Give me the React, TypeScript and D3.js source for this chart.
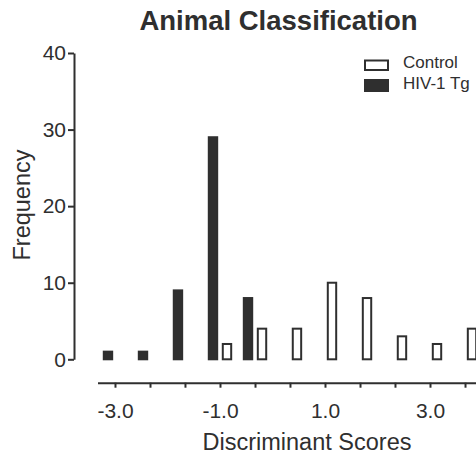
import React from "react";
import * as d3 from "d3";

const binCenters = [-3.0, -2.333, -1.667, -1.0, -0.333, 0.333, 1.0, 1.667, 2.333, 3.0, 3.667];
const hivCounts = [1, 1, 9, 29, 8, 0, 0, 0, 0, 0, 0];
const controlCounts = [0, 0, 0, 2, 4, 4, 10, 8, 3, 2, 4];
const xTickValues = [-3.0, -2.333, -1.667, -1.0, -0.333, 0.333, 1.0, 1.667, 2.333, 3.0, 3.667];
const xTickLabels = ["-3.0", "", "", "-1.0", "", "", "1.0", "", "", "3.0", ""];
const yTickValues = [0, 10, 20, 30, 40];
const seriesNames = ["Control", "HIV-1 Tg"];

const W = 476;
const H = 456;
const INK = "#2f2f2f";
const FONT = "'Liberation Sans', Arial, Helvetica, sans-serif";

export default function App() {
  const x = d3.scaleLinear().domain([-3.333, 4.0]).range([97.5, 482.5]);
  const y = d3.scaleLinear().domain([0, 40]).range([359.3, 53]);
  const binW = 2 / 3;
  const barW = binW * 0.24;
  const off = binW * 0.2;

  const xAxisRef = (g: SVGGElement | null) => {
    if (!g) return;
    const ax = d3
      .axisBottom(x)
      .tickValues(xTickValues)
      .tickFormat((_d, i) => xTickLabels[i])
      .tickSize(5)
      .tickSizeOuter(0)
      .tickPadding(15);
    const sel = d3.select(g);
    sel.call(ax as any);
    sel.select(".domain").attr("stroke", INK).attr("stroke-width", 2);
    sel.selectAll(".tick line").attr("stroke", INK).attr("stroke-width", 2);
    sel
      .selectAll(".tick text")
      .attr("fill", INK)
      .style("font-size", "21px")
      .style("font-family", FONT);
  };

  const yAxisRef = (g: SVGGElement | null) => {
    if (!g) return;
    const ax = d3
      .axisLeft(y)
      .tickValues(yTickValues)
      .tickFormat(d3.format("d") as any)
      .tickSize(6)
      .tickSizeOuter(0)
      .tickPadding(2);
    const sel = d3.select(g);
    sel.call(ax as any);
    sel.select(".domain").attr("stroke", INK).attr("stroke-width", 2);
    sel.selectAll(".tick line").attr("stroke", INK).attr("stroke-width", 2);
    sel
      .selectAll(".tick text")
      .attr("fill", INK)
      .style("font-size", "21px")
      .style("font-family", FONT);
  };

  return (
    <svg
      width={W}
      height={H}
      style={{ position: "absolute", left: 0, top: 0, background: "#fff" }}
      fontFamily={FONT}
    >
      <rect x={0} y={0} width={W} height={H} fill="#fff" />
      <text x={278.5} y={30} textAnchor="middle" fontSize={27.5} fontWeight="bold" fill={INK}>
        Animal Classification
      </text>

      <g transform="translate(0,382.7)" ref={xAxisRef} />
      <g transform="translate(74,0)" ref={yAxisRef} />

      {binCenters.map((c, i) =>
        hivCounts[i] > 0 ? (
          <rect
            key={"h" + i}
            x={x(c - off - barW / 2)}
            y={y(hivCounts[i])}
            width={x(barW) - x(0)}
            height={y(0) - y(hivCounts[i])}
            fill={INK}
            stroke={INK}
            strokeWidth={2}
          />
        ) : null
      )}
      {binCenters.map((c, i) =>
        controlCounts[i] > 0 ? (
          <rect
            key={"c" + i}
            x={x(c + off - barW / 2)}
            y={y(controlCounts[i])}
            width={x(barW) - x(0)}
            height={y(0) - y(controlCounts[i])}
            fill="#fff"
            stroke={INK}
            strokeWidth={2}
          />
        ) : null
      )}

      <text
        transform="translate(30,205) rotate(-90)"
        textAnchor="middle"
        fontSize={23.5}
        fill={INK}
      >
        Frequency
      </text>
      <text x={307} y={450} textAnchor="middle" fontSize={23.5} fill={INK}>
        Discriminant Scores
      </text>

      <g>
        <rect x={365} y={60.5} width={23} height={9.5} fill="#fff" stroke={INK} strokeWidth={2} />
        <text x={403} y={68} fontSize={17} fill={INK}>
          {seriesNames[0]}
        </text>
        <rect x={365} y={80} width={23} height={11} fill={INK} stroke={INK} strokeWidth={2} />
        <text x={403} y={88.5} fontSize={17} fill={INK}>
          {seriesNames[1]}
        </text>
      </g>
    </svg>
  );
}
